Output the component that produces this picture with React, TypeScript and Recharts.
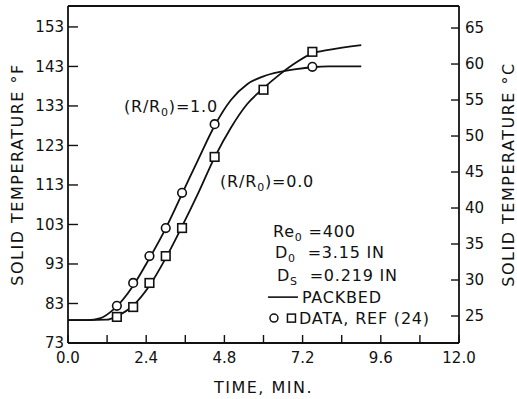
import React from "react";
import {
  ComposedChart,
  Line,
  Scatter,
  XAxis,
  YAxis,
  ReferenceLine,
  ReferenceDot,
} from "recharts";

// PACKBED curves: time (min) vs solid temperature (°F)
const curveTimeOuter = [0, 0.6, 1.0, 1.4, 2.0, 2.4, 3.0, 3.6, 4.0, 4.5, 5.0, 5.5, 6.0, 6.5, 7.0, 7.5, 8.0, 9.0];
const curveTempOuter = [78.8, 78.8, 79.3, 81.5, 87.5, 93, 102, 112.5, 119.5, 128, 134.5, 138.5, 140.5, 141.6, 142.3, 142.8, 143, 143];
const curveTimeCenter = [0, 0.6, 1.2, 1.5, 2.0, 2.5, 3.0, 3.5, 4.0, 4.5, 5.0, 5.5, 6.0, 6.5, 7.0, 7.5, 8.0, 9.0];
const curveTempCenter = [78.8, 78.8, 78.9, 79.8, 82.5, 87.5, 94.5, 102.5, 111, 120, 127.5, 133.5, 137.5, 141, 144, 146.3, 147.2, 148.4];

// DATA, REF (24)
const circleTime = [1.5, 2.0, 2.5, 3.0, 3.5, 4.5, 7.5];
const circleTemp = [82.4, 88.2, 95.0, 102.1, 111.0, 128.4, 142.9];
const squareTime = [1.5, 2.0, 2.5, 3.0, 3.5, 4.5, 6.0, 7.5];
const squareTemp = [79.6, 82.1, 88.2, 95.0, 102.1, 120.1, 137.1, 146.7];

// axes
const xTicks = [0, 1.2, 2.4, 3.6, 4.8, 6.0, 7.2, 8.4, 9.6, 10.8, 12.0];
const xLabels = ["0.0", "2.4", "4.8", "7.2", "9.6", "12.0"];
const fTicks = [73, 83, 93, 103, 113, 123, 133, 143, 153];
const fDomain = [73, 158.3];
const cTicks = [25, 30, 35, 40, 45, 50, 55, 60, 65];
const cDomain = [21.25, 68.06];

const toPoints = (ts: number[], fs: number[]) => ts.map((t, i) => ({ t, f: fs[i] }));

const FONT = "DejaVu Sans";
const INK = "#111";
const tickStyle = { fontFamily: FONT, fontSize: 15, fill: INK };

const HollowCircle = (p: any) => (
  <circle cx={p.cx} cy={p.cy} r={4.3} fill="#fff" stroke={INK} strokeWidth={1.6} />
);
const HollowSquare = (p: any) => (
  <rect x={p.cx - 4.3} y={p.cy - 4.3} width={8.6} height={8.6} fill="#fff" stroke={INK} strokeWidth={1.6} />
);

const ratioLabel = (value: string) => (p: any) => (
  <text x={p.cx} y={p.cy} textAnchor="middle" fontFamily={FONT} fontSize={16} letterSpacing={0.8} fill={INK}>
    <tspan>(R/R</tspan>
    <tspan dy={4} fontSize={11}>0</tspan>
    <tspan dy={-4}>)={value}</tspan>
  </text>
);

const InfoBlock = (p: any) => {
  const x = p.cx;
  const y = p.cy;
  const txt = { fontFamily: FONT, fontSize: 16, fill: INK, letterSpacing: 0.8 };
  return (
    <g>
      <text x={x} y={y} {...txt}>
        <tspan>Re</tspan>
        <tspan dy={4} fontSize={11}>0</tspan>
        <tspan dy={-4}>{"\u00a0=400"}</tspan>
      </text>
      <text x={x + 2} y={y + 21} {...txt}>
        <tspan>D</tspan>
        <tspan dy={4} fontSize={11}>0</tspan>
        <tspan dy={-4}>{"\u00a0\u00a0=3.15 IN"}</tspan>
      </text>
      <text x={x + 4} y={y + 44} {...txt}>
        <tspan>D</tspan>
        <tspan dy={4} fontSize={11}>S</tspan>
        <tspan dy={-4}>{"\u00a0\u00a0=0.219 IN"}</tspan>
      </text>
      <line x1={x - 5} x2={x + 25} y1={y + 60} y2={y + 60} stroke={INK} strokeWidth={1.6} />
      <text x={x + 29} y={y + 66} {...txt}>PACKBED</text>
      <circle cx={x + 1} cy={y + 81} r={4} fill="#fff" stroke={INK} strokeWidth={1.5} />
      <rect x={x + 14.5} y={y + 77} width={8} height={8} fill="#fff" stroke={INK} strokeWidth={1.5} />
      <text x={x + 26} y={y + 87} {...txt}>DATA, REF (24)</text>
    </g>
  );
};

export default function App() {
  return (
    <div style={{ position: "absolute", left: 0, top: 0, background: "#fff" }}>
      <ComposedChart width={517} height={399} margin={{ top: 6, right: 0, bottom: 0, left: 0 }}>
        <XAxis
          dataKey="t"
          type="number"
          domain={[0, 12]}
          ticks={xTicks}
          interval={0}
          tickFormatter={(v: number) => (xLabels.includes(v.toFixed(1)) ? v.toFixed(1) : "")}
          height={56}
          tickSize={-8}
          tickMargin={17}
          tick={tickStyle}
          axisLine={{ stroke: INK, strokeWidth: 1.8 }}
          tickLine={{ stroke: INK, strokeWidth: 1.4 }}
          label={{
            value: "TIME, MIN.",
            position: "insideBottom",
            offset: 6,
            style: { fontFamily: FONT, fontSize: 16, letterSpacing: 1.5, fill: INK },
          }}
        />
        <YAxis
          yAxisId="f"
          type="number"
          domain={fDomain}
          ticks={fTicks}
          interval={0}
          allowDataOverflow
          width={68}
          tickSize={-10}
          tickMargin={14}
          tick={tickStyle}
          axisLine={{ stroke: INK, strokeWidth: 1.8 }}
          tickLine={{ stroke: INK, strokeWidth: 1.4 }}
          label={{
            value: "SOLID TEMPERATURE °F",
            angle: -90,
            position: "insideLeft",
            offset: 17,
            style: { textAnchor: "middle", fontFamily: FONT, fontSize: 16, letterSpacing: 1.5, fill: INK },
          }}
        />
        <YAxis
          yAxisId="c"
          orientation="right"
          type="number"
          domain={cDomain}
          ticks={cTicks}
          interval={0}
          allowDataOverflow
          width={58}
          tickSize={-8}
          tickMargin={14}
          tick={{ ...tickStyle, textAnchor: "start" }}
          axisLine={{ stroke: INK, strokeWidth: 1.8 }}
          tickLine={{ stroke: INK, strokeWidth: 1.4 }}
          label={{
            value: "SOLID TEMPERATURE °C",
            angle: -90,
            position: "insideRight",
            offset: 9,
            style: { textAnchor: "middle", fontFamily: FONT, fontSize: 16, letterSpacing: 1.5, fill: INK },
          }}
        />
        <ReferenceLine yAxisId="f" y={fDomain[1]} stroke={INK} strokeWidth={1.8} />

        <Line
          yAxisId="f"
          data={toPoints(curveTimeOuter, curveTempOuter)}
          dataKey="f"
          type="monotone"
          stroke={INK}
          strokeWidth={1.8}
          dot={false}
          isAnimationActive={false}
        />
        <Line
          yAxisId="f"
          data={toPoints(curveTimeCenter, curveTempCenter)}
          dataKey="f"
          type="monotone"
          stroke={INK}
          strokeWidth={1.8}
          dot={false}
          isAnimationActive={false}
        />
        <Scatter
          yAxisId="f"
          data={toPoints(circleTime, circleTemp)}
          dataKey="f"
          shape={HollowCircle}
          isAnimationActive={false}
        />
        <Scatter
          yAxisId="f"
          data={toPoints(squareTime, squareTemp)}
          dataKey="f"
          shape={HollowSquare}
          isAnimationActive={false}
        />

        <ReferenceDot yAxisId="f" x={3.16} y={131.5} r={0} shape={ratioLabel("1.0")} />
        <ReferenceDot yAxisId="f" x={6.11} y={112.5} r={0} shape={ratioLabel("0.0")} />
        <ReferenceDot yAxisId="f" x={6.29} y={99.8} r={0} shape={InfoBlock} />
      </ComposedChart>
    </div>
  );
}
